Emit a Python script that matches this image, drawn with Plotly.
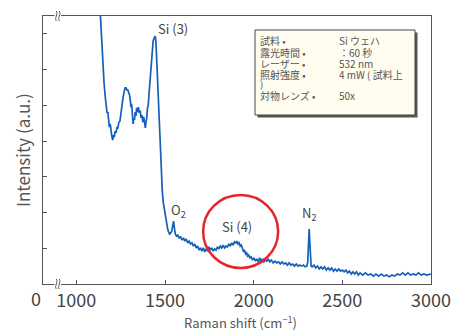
import plotly.graph_objects as go

# Raman spectrum of a Si wafer (wavenumber in cm^-1, intensity in arbitrary units)
wavenumber = [
    1125, 1135, 1142, 1148, 1152, 1156, 1162, 1168, 1173, 1178, 1182, 1186, 1191, 1196, 1200,
    1205, 1210, 1214, 1219, 1224, 1229, 1234, 1240, 1246, 1251, 1257, 1263, 1269, 1275, 1280,
    1285, 1290, 1295, 1300, 1304, 1308, 1312, 1316, 1320, 1324, 1328, 1332, 1336, 1340, 1345,
    1350, 1355, 1360, 1365, 1370, 1375, 1380, 1385, 1389, 1393, 1397, 1401, 1405, 1409, 1413,
    1417, 1421, 1425, 1429, 1433, 1437, 1441, 1445, 1449, 1452, 1455, 1459, 1463, 1467, 1471,
    1475, 1480, 1485, 1490, 1495, 1500, 1505, 1510, 1515, 1520, 1526, 1532, 1538, 1543, 1548,
    1553, 1558, 1565, 1572, 1580, 1588, 1596, 1604, 1612, 1620, 1628, 1636, 1644, 1652, 1660,
    1668, 1676, 1684, 1692, 1700, 1708, 1716, 1724, 1732, 1740, 1748, 1756, 1764, 1772, 1780,
    1788, 1796, 1804, 1812, 1820, 1828, 1836, 1844, 1852, 1860, 1868, 1876, 1884, 1892, 1900,
    1906, 1912, 1918, 1924, 1930, 1936, 1942, 1948, 1954, 1960, 1966, 1972, 1978, 1986, 1994,
    2002, 2010, 2018, 2026, 2034, 2042, 2050, 2058, 2066, 2074, 2082, 2090, 2100, 2110, 2120,
    2130, 2140, 2150, 2160, 2170, 2180, 2190, 2200, 2210, 2220, 2230, 2240, 2250, 2260, 2270,
    2280, 2290, 2300, 2305, 2309, 2313, 2316, 2320, 2324, 2330, 2340, 2350, 2360, 2370, 2380,
    2390, 2400, 2410, 2420, 2430, 2440, 2450, 2460, 2470, 2480, 2490, 2500, 2510, 2520, 2530,
    2540, 2550, 2560, 2570, 2580, 2590, 2600, 2615, 2630, 2645, 2660, 2675, 2690, 2705, 2720,
    2735, 2750, 2765, 2780, 2795, 2810, 2825, 2840, 2855, 2870, 2885, 2900, 2915, 2930, 2945,
    2960, 2975, 2990, 3000,
]
intensity = [
    8.50, 7.48, 6.97, 6.55, 6.05, 5.65, 5.29, 4.98, 4.79, 4.81, 4.53, 4.39, 4.48, 4.23, 4.14,
    4.03, 4.17, 4.11, 4.28, 4.23, 4.39, 4.37, 4.53, 4.56, 4.79, 4.98, 5.21, 5.37, 5.49, 5.49,
    5.43, 5.43, 5.35, 5.29, 5.15, 4.95, 5.04, 4.79, 4.48, 4.65, 4.59, 4.81, 4.70, 4.93, 4.81,
    4.95, 4.79, 4.85, 4.65, 4.73, 4.53, 4.68, 4.48, 4.37, 4.53, 4.65, 4.93, 4.98, 5.26, 5.54,
    5.85, 6.13, 6.38, 6.61, 6.80, 6.86, 6.89, 6.94, 6.77, 6.41, 6.05, 5.49, 4.87, 4.39, 3.89,
    3.41, 2.97, 2.57, 2.29, 2.13, 1.96, 1.79, 1.62, 1.54, 1.46, 1.40, 1.43, 1.48, 1.62, 1.76,
    1.57, 1.40, 1.34, 1.37, 1.29, 1.32, 1.23, 1.29, 1.20, 1.26, 1.15, 1.20, 1.12, 1.15, 1.06,
    1.12, 1.01, 1.06, 0.95, 1.01, 0.92, 1.01, 0.90, 0.98, 0.92, 1.04, 0.95, 1.01, 0.92, 0.98,
    0.95, 1.04, 0.98, 1.06, 1.01, 1.09, 1.01, 1.06, 1.04, 1.12, 1.06, 1.15, 1.09, 1.18, 1.15,
    1.20, 1.12, 1.15, 1.06, 1.09, 1.01, 0.92, 0.95, 0.84, 0.87, 0.78, 0.81, 0.73, 0.76, 0.67,
    0.73, 0.64, 0.70, 0.62, 0.73, 0.64, 0.70, 0.62, 0.67, 0.64, 0.70, 0.62, 0.67, 0.59, 0.64,
    0.59, 0.62, 0.56, 0.62, 0.56, 0.59, 0.53, 0.59, 0.53, 0.56, 0.50, 0.56, 0.50, 0.53, 0.50,
    0.53, 0.48, 0.50, 0.62, 1.09, 1.54, 1.23, 0.67, 0.50, 0.48, 0.53, 0.45, 0.50, 0.42, 0.48,
    0.42, 0.48, 0.39, 0.45, 0.39, 0.45, 0.36, 0.42, 0.36, 0.42, 0.36, 0.39, 0.34, 0.39, 0.31,
    0.36, 0.28, 0.34, 0.28, 0.34, 0.25, 0.31, 0.25, 0.31, 0.25, 0.28, 0.22, 0.28, 0.22, 0.28,
    0.22, 0.25, 0.20, 0.25, 0.22, 0.28, 0.25, 0.31, 0.25, 0.31, 0.25, 0.28, 0.25, 0.31, 0.25,
    0.28, 0.25, 0.28, 0.28,
]

x_ticks = [1000, 1500, 2000, 2500, 3000]
y_ticks = [1, 2, 3, 4, 5, 6, 7]
x_range = [812, 3000]
y_range = [0, 7.5]

# Peak labels: text, wavenumber, intensity
peak_labels = ["Si (3)", "O<sub>2</sub>", "Si (4)", "N<sub>2</sub>"]
peak_x = [1546, 1575, 1907, 2313]
peak_y = [7.16, 2.07, 1.60, 1.96]

# Measurement conditions
cond_names = ["試料 •", "露光時間 •", "レーザー •", "照射強度 •", ")", "対物レンズ •"]
cond_values = ["Si ウェハ", "：60 秒", "532 nm", "4 mW ( 試料上", "", "50x"]

LINE = "#1560b8"
AXIS = "#555555"
TEXT = "#444444"
JP = "Noto Sans CJK JP"

# plot-area geometry in pixels (used to place paper-referenced decorations)
L, R, T, B = 43, 431, 16, 284
W, H = R - L, B - T


def px_x(p):
    return (p - L) / W


def px_y(p):
    return (B - p) / H


fig = go.Figure()
fig.add_trace(go.Scatter(
    x=wavenumber, y=intensity, mode="lines",
    line=dict(color=LINE, width=1.7), cliponaxis=True, showlegend=False,
))

fig.update_layout(
    width=456, height=333,
    margin=dict(l=L, r=456 - R, t=T, b=333 - B, autoexpand=False),
    paper_bgcolor="white", plot_bgcolor="white",
    font=dict(family=JP, color=TEXT),
)
fig.update_xaxes(
    range=x_range, tickvals=x_ticks, ticks="inside", ticklen=4, tickcolor=AXIS,
    showgrid=False, zeroline=False, showline=True, linecolor=AXIS, linewidth=1.3,
    mirror=True, automargin=False, tickfont=dict(size=18, color=TEXT, family=JP),
)
fig.update_yaxes(
    range=y_range, tickvals=y_ticks, ticks="inside", ticklen=4, tickcolor=AXIS,
    showticklabels=False, showgrid=False, zeroline=False, showline=True,
    linecolor=AXIS, linewidth=1.3, mirror=True, automargin=False,
)

# Axis titles
fig.add_annotation(text="Raman shift (cm<sup>−1</sup>)", xref="paper", yref="paper",
                   x=px_x(240), y=px_y(322), xanchor="center", yanchor="middle",
                   showarrow=False, font=dict(size=13, color="#555555", family=JP))
fig.add_annotation(text="Intensity (a.u.)", xref="paper", yref="paper",
                   x=px_x(22), y=px_y(150), xanchor="center", yanchor="middle",
                   textangle=-90, showarrow=False,
                   font=dict(size=17, color="#555555", family=JP))
# Origin label left of the axis break
fig.add_annotation(text="0", xref="paper", yref="paper", x=px_x(36), y=px_y(298),
                   xanchor="center", yanchor="middle", showarrow=False,
                   font=dict(size=18, color=TEXT, family=JP))

# Axis break marks: white gap with two small S-shaped strokes
for yb in [T, B]:
    fig.add_shape(type="rect", xref="paper", yref="paper",
                  x0=px_x(54.5), x1=px_x(61), y0=px_y(yb + 2), y1=px_y(yb - 2),
                  line=dict(width=0), fillcolor="white", layer="above")
    for xb in [56.3, 59.3]:
        path = (f"M {px_x(xb)},{px_y(yb + 5)} "
                f"C {px_x(xb - 2.2)},{px_y(yb + 1.5)} {px_x(xb + 2.2)},{px_y(yb - 1.5)} "
                f"{px_x(xb)},{px_y(yb - 5)}")
        fig.add_shape(type="path", xref="paper", yref="paper", path=path,
                      line=dict(color=AXIS, width=1), layer="above")

# Peak labels
for t, px, py in zip(peak_labels, peak_x, peak_y):
    fig.add_annotation(text=t, x=px, y=py, showarrow=False,
                       font=dict(size=13, color=TEXT, family=JP))

# Highlight circle around Si (4)
fig.add_shape(type="circle", x0=1715, x1=2138, y0=0.45, y1=2.49,
              line=dict(color="#e3262b", width=2.5))

# Conditions box with shadow
bx0, bx1, by0, by1 = px_x(255), px_x(415), px_y(115), px_y(30)
fig.add_shape(type="rect", xref="paper", yref="paper",
              x0=bx0 + 2.5 / W, x1=bx1 + 2.5 / W, y0=by0 - 2.5 / H, y1=by1 - 2.5 / H,
              line=dict(width=0), fillcolor="#555555")
fig.add_shape(type="rect", xref="paper", yref="paper",
              x0=bx0, x1=bx1, y0=by0, y1=by1,
              line=dict(color="#444444", width=1), fillcolor="#fffdf0")
row_y = [40.7, 52.3, 63.3, 74.3, 84.0, 95.0]
for name, val, ry in zip(cond_names, cond_values, row_y):
    fig.add_annotation(text=name, xref="paper", yref="paper", x=px_x(259), y=px_y(ry),
                       xanchor="left", yanchor="middle", showarrow=False, borderpad=0,
                       font=dict(size=10, color="#555555", family=JP))
    if val:
        fig.add_annotation(text=val, xref="paper", yref="paper", x=px_x(338), y=px_y(ry),
                           xanchor="left", yanchor="middle", showarrow=False, borderpad=0,
                           font=dict(size=10, color="#555555", family=JP))

fig.write_html("out.html")
